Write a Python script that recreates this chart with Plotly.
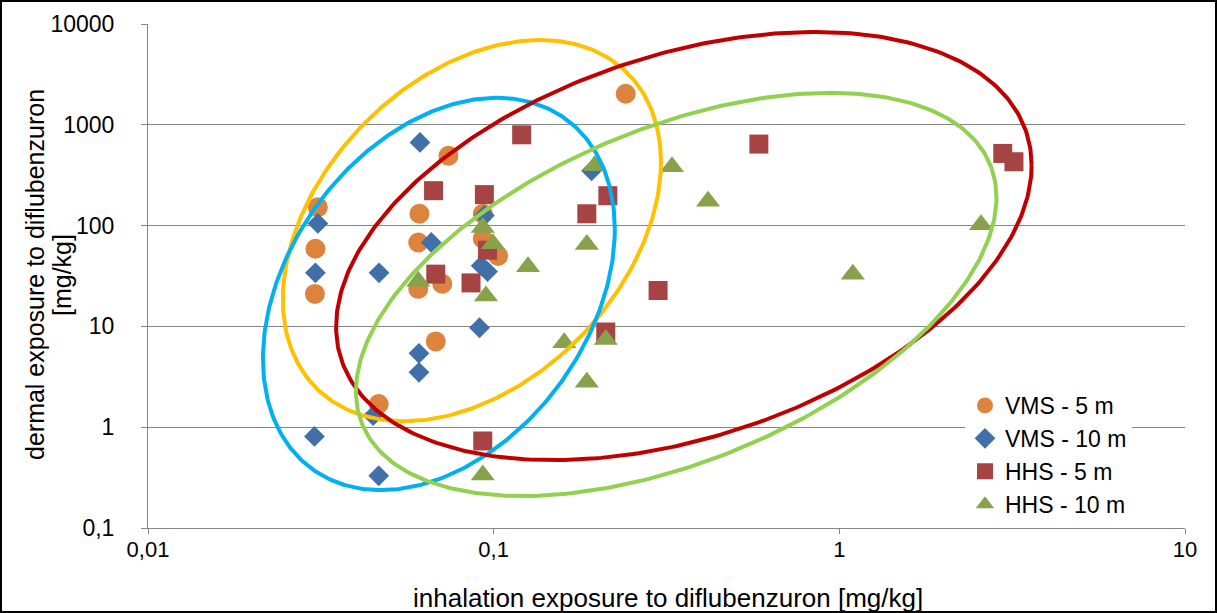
import numpy as np
import plotly.graph_objects as go

# ---- data ----
vms5_x = [0.031, 0.0305, 0.0304, 0.074, 0.061, 0.0605, 0.0605, 0.071, 0.068, 0.0465, 0.093, 0.093, 0.103, 0.241]
vms5_y = [152, 59, 21, 493, 131, 68, 23.6, 26.5, 7.1, 1.7, 131, 74, 50, 2030]

vms10_x = [0.031, 0.0305, 0.0303, 0.0466, 0.0448, 0.0465, 0.0612, 0.066, 0.0608, 0.0608, 0.094, 0.092, 0.096, 0.091, 0.192]
vms10_y = [105, 34, 0.81, 34, 1.3, 0.33, 668, 68, 5.4, 3.5, 126, 40, 35, 9.7, 350]

hhs5_x = [0.067, 0.1205, 0.094, 0.096, 0.086, 0.068, 0.093, 0.214, 0.186, 0.299, 0.211, 0.585, 2.97, 3.2]
hhs5_y = [222, 796, 203, 57, 27, 33, 0.73, 198, 131, 22.7, 8.8, 644, 520, 430]

hhs10_x = [0.093, 0.0995, 0.095, 0.093, 0.0605, 0.1257, 0.196, 0.186, 0.16, 0.186, 0.211, 0.328, 0.417, 1.094, 2.57]
hhs10_y = [96, 66, 20, 0.335, 28, 39, 393, 65, 6.9, 2.8, 7.4, 384, 174, 33, 102]

series_names = ["VMS - 5 m", "VMS - 10 m", "HHS - 5 m", "HHS - 10 m"]

x_tickvals = [0.01, 0.1, 1, 10]
x_ticktext = ["0,01", "0,1", "1", "10"]
y_tickvals = [0.1, 1, 10, 100, 1000, 10000]
y_ticktext = ["0,1", "1", "10", "100", "1000", "10000"]

x_title = "inhalation exposure to diflubenzuron [mg/kg]"
y_title_lines = ["dermal exposure to diflubenzuron", "[mg/kg]"]

# ellipses in log10 units: centre x, centre y, half-width, half-height, x-offset of top point
ell_cx = [-1.063, -1.1585, -0.4498, -0.472]
ell_cy = [1.950, 1.322, 1.797, 1.317]
ell_w = [0.547, 0.509, 1.006, 0.9265]
ell_h = [1.891, 1.946, 2.124, 2.0]
ell_d = [0.197, 0.168, 0.379, 0.4455]
ell_colors = ["#FFC000", "#00B0F0", "#C00000", "#92D050"]

FONT = "Liberation Sans, Arial, sans-serif"

fig = go.Figure()

marker_specs = [
    (vms5_x, vms5_y, "circle", 20, "#DC843D"),
    (vms10_x, vms10_y, "diamond", 16, "#4170A8"),
    (hhs5_x, hhs5_y, "square", 19, "#A64443"),
    (hhs10_x, hhs10_y, "triangle-up", 21, "#87A24A"),
]
for (xs, ys, sym, sz, col), name in zip(marker_specs, series_names):
    fig.add_trace(go.Scatter(
        x=xs, y=ys, mode="markers", name=name,
        marker=dict(symbol=sym, size=sz, color=col, line=dict(width=0)),
    ))

t = np.linspace(0, 2 * np.pi, 400)
for cx, cy, w, h, d, col in zip(ell_cx, ell_cy, ell_w, ell_h, ell_d, ell_colors):
    mxy = d * h
    k = mxy / w
    X = cx + w * np.cos(t)
    Y = cy + k * np.cos(t) + np.sqrt(h * h - k * k) * np.sin(t)
    fig.add_trace(go.Scatter(
        x=10 ** X, y=10 ** Y, mode="lines", showlegend=False, hoverinfo="skip",
        line=dict(color=col, width=4),
    ))

W, H = 1217, 613
ml, mr, mt, mb = 148, 32, 24, 85
pw, ph = W - ml - mr, H - mt - mb

fig.update_layout(
    width=W, height=H,
    margin=dict(l=ml, r=mr, t=mt, b=mb),
    paper_bgcolor="white", plot_bgcolor="white",
    font=dict(family=FONT, size=22, color="black"),
    showlegend=True,
    legend=dict(
        x=(965 - ml) / pw, y=(528 - 384) / ph, xanchor="left", yanchor="top",
        bgcolor="white", borderwidth=0,
        font=dict(family=FONT, size=23, color="black"),
        tracegroupgap=0, itemwidth=30,
    ),
    xaxis=dict(
        type="log", range=[-2, 1],
        tickvals=x_tickvals, ticktext=x_ticktext,
        showgrid=False, zeroline=False,
        showline=True, linecolor="#868686", linewidth=1,
        ticks="outside", ticklen=5, tickcolor="#868686",
        tickfont=dict(family=FONT, size=22, color="black"),
        ticklabelstandoff=-3,
    ),
    yaxis=dict(
        type="log", range=[-1, 4],
        tickvals=y_tickvals, ticktext=y_ticktext,
        showgrid=True, gridcolor="#868686", gridwidth=1,
        zeroline=False,
        showline=True, linecolor="#868686", linewidth=1,
        ticks="outside", ticklen=6, tickcolor="#868686",
        tickfont=dict(family=FONT, size=23, color="black"),
        ticklabelstandoff=22,
    ),
)

# axis titles as annotations
fig.add_annotation(text=x_title, xref="paper", yref="paper",
                   x=(668 - ml) / pw, y=(528 - 598) / ph, xanchor="center", yanchor="middle",
                   showarrow=False, font=dict(family=FONT, size=26, color="black"))
for txt, px in zip(y_title_lines, [35, 62]):
    fig.add_annotation(text=txt, xref="paper", yref="paper", textangle=-90,
                       x=(px - ml) / pw, y=(528 - 275) / ph, xanchor="center", yanchor="middle",
                       showarrow=False, font=dict(family=FONT, size=25, color="black"))

# outer black frame
fig.add_shape(type="rect", xref="paper", yref="paper",
              x0=(-ml + 1) / pw, x1=1 + (mr - 1) / pw,
              y0=(-mb + 1) / ph, y1=1 + (mt - 1) / ph,
              line=dict(color="black", width=2), fillcolor="rgba(0,0,0,0)", layer="above")

fig.write_html("out.html", config={"displayModeBar": False},
               post_script="document.body.style.margin='0px';")
